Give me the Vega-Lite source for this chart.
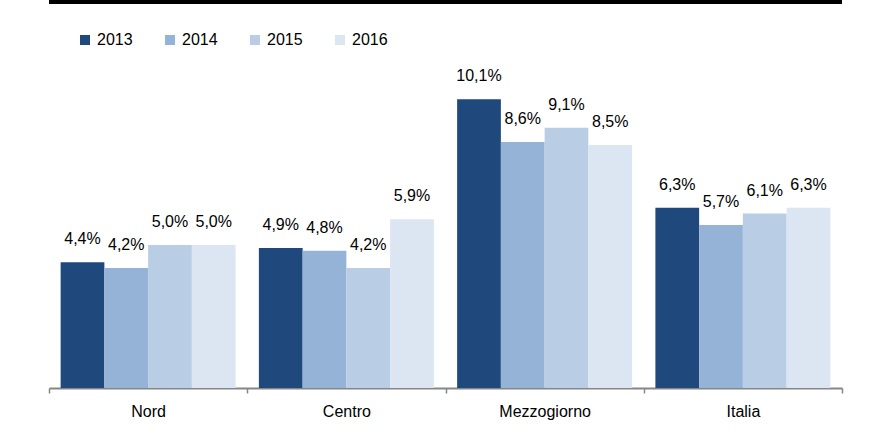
{
  "$schema": "https://vega.github.io/schema/vega-lite/v6.json",
  "width": 793,
  "height": 386,
  "autosize": {"type": "none"},
  "padding": {"left": 49, "top": 2, "right": 37, "bottom": 51},
  "background": "white",
  "config": {
    "view": {"stroke": null},
    "font": "Liberation Sans, Arial, sans-serif"
  },
  "data": {
    "values": [
      {"area": "Nord", "year": "2013", "value": 4.4, "label": "4,4%"},
      {"area": "Nord", "year": "2014", "value": 4.2, "label": "4,2%"},
      {"area": "Nord", "year": "2015", "value": 5.0, "label": "5,0%"},
      {"area": "Nord", "year": "2016", "value": 5.0, "label": "5,0%"},
      {"area": "Centro", "year": "2013", "value": 4.9, "label": "4,9%"},
      {"area": "Centro", "year": "2014", "value": 4.8, "label": "4,8%"},
      {"area": "Centro", "year": "2015", "value": 4.2, "label": "4,2%"},
      {"area": "Centro", "year": "2016", "value": 5.9, "label": "5,9%"},
      {"area": "Mezzogiorno", "year": "2013", "value": 10.1, "label": "10,1%"},
      {"area": "Mezzogiorno", "year": "2014", "value": 8.6, "label": "8,6%"},
      {"area": "Mezzogiorno", "year": "2015", "value": 9.1, "label": "9,1%"},
      {"area": "Mezzogiorno", "year": "2016", "value": 8.5, "label": "8,5%"},
      {"area": "Italia", "year": "2013", "value": 6.3, "label": "6,3%"},
      {"area": "Italia", "year": "2014", "value": 5.7, "label": "5,7%"},
      {"area": "Italia", "year": "2015", "value": 6.1, "label": "6,1%"},
      {"area": "Italia", "year": "2016", "value": 6.3, "label": "6,3%"}
    ]
  },
  "encoding": {
    "x": {
      "field": "area",
      "type": "nominal",
      "sort": ["Nord", "Centro", "Mezzogiorno", "Italia"],
      "scale": {"paddingInner": 0, "paddingOuter": 0},
      "axis": {
        "title": null,
        "labelAngle": 0,
        "tickBand": "extent",
        "domainColor": "#868686",
        "domainWidth": 2,
        "tickColor": "#868686",
        "tickWidth": 1.5,
        "tickSize": 5,
        "labelPadding": 10,
        "labelFontSize": 16,
        "labelColor": "#000000",
        "labelFont": "Liberation Sans, Arial, sans-serif"
      }
    },
    "xOffset": {
      "field": "year",
      "type": "nominal",
      "scale": {"paddingInner": 0, "paddingOuter": 0.266}
    },
    "y": {
      "field": "value",
      "type": "quantitative",
      "scale": {"domain": [0, 13.5], "nice": false, "zero": true},
      "axis": null
    }
  },
  "layer": [
    {
      "mark": {"type": "bar"},
      "encoding": {
        "color": {
          "field": "year",
          "type": "nominal",
          "scale": {
            "domain": ["2013", "2014", "2015", "2016"],
            "range": ["#1F497D", "#95B3D7", "#B9CDE5", "#DCE6F2"]
          },
          "legend": {
            "title": null,
            "orient": "none",
            "legendX": 28,
            "legendY": 30,
            "direction": "horizontal",
            "columns": 4,
            "columnPadding": 29,
            "padding": 0,
            "symbolType": "square",
            "symbolSize": 100,
            "symbolStrokeWidth": 0,
            "labelOffset": 4,
            "labelFontSize": 16,
            "labelColor": "#000000",
            "labelFont": "Liberation Sans, Arial, sans-serif"
          }
        }
      }
    },
    {
      "mark": {
        "type": "text",
        "baseline": "bottom",
        "dy": -15,
        "fontSize": 16,
        "color": "#000000",
        "font": "Liberation Sans, Arial, sans-serif"
      },
      "encoding": {"text": {"field": "label"}}
    },
    {
      "mark": {"type": "rule", "color": "#000000", "strokeWidth": 3},
      "encoding": {"y": {"datum": 13.5}, "x": null, "xOffset": null}
    }
  ]
}
